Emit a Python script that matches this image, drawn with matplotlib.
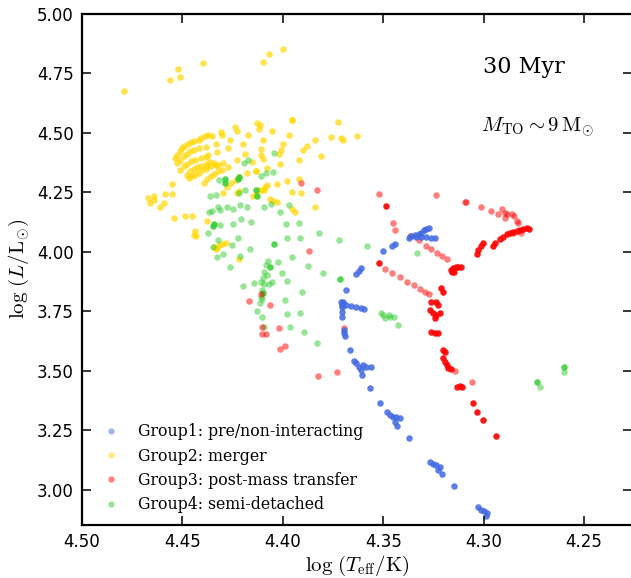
import numpy as np
import matplotlib
matplotlib.use('Agg')
import matplotlib.pyplot as plt
from matplotlib.lines import Line2D

# (log Teff, log L)
group1_pts = [
    (4.3373, 4.060), (4.336, 4.067), (4.3343, 4.071), (4.3323, 4.076), (4.331, 4.081),
    (4.3297, 4.090), (4.3285, 4.095), (4.3273, 4.100), (4.331, 4.064), (4.3285, 4.062),
    (4.3263, 4.060), (4.3243, 4.059), (4.3335, 4.064), (4.3502, 4.004), (4.3455, 4.025),
    (4.3443, 4.034), (4.3635, 3.907), (4.3623, 3.921), (4.361, 3.934), (4.3687, 3.840),
    (4.3702, 3.791), (4.3705, 3.770), (4.3705, 3.749), (4.3705, 3.728), (4.3685, 3.777),
    (4.366, 3.773), (4.3635, 3.767), (4.361, 3.763), (4.3597, 3.759), (4.371, 3.791),
    (4.3707, 3.777), (4.3697, 3.672), (4.3693, 3.658), (4.369, 3.647), (4.3668, 3.588),
    (4.3647, 3.542), (4.3635, 3.532), (4.3623, 3.518), (4.3613, 3.504), (4.3607, 3.483),
    (4.3602, 3.525), (4.3585, 3.518), (4.3563, 3.518), (4.3568, 3.427), (4.3518, 3.364),
    (4.348, 3.325), (4.3468, 3.315), (4.3452, 3.308), (4.3435, 3.305), (4.3418, 3.301),
    (4.3443, 3.287), (4.343, 3.269), (4.3373, 3.216), (4.3268, 3.119), (4.3252, 3.109),
    (4.3235, 3.105), (4.3218, 3.098), (4.3227, 3.084), (4.3207, 3.067), (4.3147, 3.017),
    (4.303, 2.927), (4.3013, 2.916), (4.2997, 2.909), (4.2985, 2.902), (4.299, 2.888),
]

group2_pts = [
    # sparse bright ones
    (4.479, 4.678), (4.456, 4.723), (4.452, 4.769), (4.451, 4.733), (4.440, 4.794),
    (4.410, 4.797), (4.407, 4.831), (4.400, 4.854),
    (4.3955, 4.552), (4.3955, 4.552), (4.3725, 4.546), (4.363, 4.486), (4.376, 4.482),
    (4.371, 4.478), (4.370, 4.470), (4.384, 4.468), (4.388, 4.446), (4.390, 4.430),
    (4.381, 4.402), (4.392, 4.385), (4.397, 4.493), (4.400, 4.453), (4.4055, 4.509),
    (4.410, 4.470), (4.413, 4.543), (4.4115, 4.531), (4.412, 4.516), (4.411, 4.431),
    (4.401, 4.426), (4.402, 4.412), (4.411, 4.407), (4.410, 4.392), (4.4015, 4.371),
    (4.4135, 4.339), (4.408, 4.354), (4.398, 4.298), (4.392, 4.307), (4.403, 4.286),
    (4.408, 4.283), (4.409, 4.271), (4.4095, 4.258), (4.4105, 4.261), (4.412, 4.261),
    (4.4135, 4.239), (4.415, 4.236), (4.3955, 4.252), (4.391, 4.247), (4.4065, 4.222),
    (4.405, 4.212), (4.403, 4.209), (4.384, 4.189), (4.3955, 4.178), (4.394, 4.168),
    # dense stripes
    (4.4535, 4.394), (4.4527, 4.408), (4.4513, 4.422), (4.4502, 4.436), (4.449, 4.446),
    (4.4473, 4.454), (4.4457, 4.460), (4.444, 4.464), (4.4418, 4.471), (4.4407, 4.478),
    (4.439, 4.485), (4.4372, 4.490), (4.4352, 4.488),
    (4.4527, 4.373), (4.451, 4.387), (4.4493, 4.401), (4.4477, 4.412), (4.446, 4.422),
    (4.444, 4.429), (4.4418, 4.436),
    (4.451, 4.345), (4.4493, 4.359), (4.4477, 4.370), (4.4457, 4.380), (4.4435, 4.387),
    (4.441, 4.394), (4.4385, 4.398),
    (4.4477, 4.324), (4.446, 4.338), (4.4443, 4.348), (4.4427, 4.356), (4.4407, 4.362),
    (4.4385, 4.370), (4.4363, 4.376), (4.4343, 4.373),
    (4.4468, 4.310), (4.4452, 4.317), (4.4435, 4.324), (4.4418, 4.331), (4.4402, 4.342),
    (4.4385, 4.348), (4.436, 4.359), (4.4335, 4.366),
    (4.4393, 4.291), (4.4377, 4.305), (4.436, 4.317), (4.4343, 4.328), (4.4323, 4.338),
    (4.4302, 4.345),
    (4.4297, 4.249), (4.4277, 4.274), (4.4257, 4.289), (4.4235, 4.302), (4.4218, 4.316),
    (4.4227, 4.247), (4.4218, 4.256),
    # scattered around the stripes
    (4.4378, 4.359), (4.4333, 4.454), (4.433, 4.419), (4.4372, 4.406), (4.4382, 4.440),
    (4.431, 4.502), (4.4302, 4.489), (4.4237, 4.524), (4.4227, 4.509), (4.4173, 4.489),
    (4.4263, 4.471), (4.4198, 4.453), (4.419, 4.412), (4.4273, 4.436), (4.4272, 4.356),
    (4.4298, 4.373), (4.4323, 4.366), (4.4177, 4.331), (4.4135, 4.338), (4.423, 4.387),
    (4.4152, 4.376),
    (4.4552, 4.286), (4.4585, 4.244), (4.4553, 4.244), (4.4673, 4.226), (4.4663, 4.205),
    (4.4643, 4.235), (4.464, 4.219), (4.4613, 4.188), (4.4593, 4.205), (4.4485, 4.151),
    (4.445, 4.151), (4.4543, 4.142), (4.4438, 4.088), (4.4443, 4.071), (4.4432, 4.068),
    (4.438, 4.130), (4.4343, 4.022), (4.433, 4.016), (4.4318, 4.029), (4.4302, 4.032),
    (4.4285, 4.036), (4.4335, 4.011), (4.4218, 3.972),
]

group3_pts = [
    (4.391, 4.291), (4.383, 4.260), (4.3868, 4.005), (4.4168, 3.795), (4.4063, 3.777),
    (4.4107, 3.823), (4.4102, 3.686), (4.4102, 3.654), (4.4085, 3.654), (4.4018, 3.682),
    (4.4013, 3.591), (4.399, 3.606), (4.3827, 3.479), (4.3732, 3.497), (4.3693, 3.682),
    (4.3522, 4.245), (4.3453, 4.120), (4.344, 4.091), (4.3365, 4.068), (4.3323, 4.050),
    (4.3288, 4.025), (4.326, 4.011), (4.323, 3.997), (4.3205, 3.983), (4.3183, 3.972),
    (4.3493, 3.930), (4.3455, 3.910), (4.3415, 3.893), (4.338, 3.875), (4.3347, 3.860),
    (4.3318, 3.846), (4.3293, 3.832), (4.3273, 3.821), (4.3235, 4.237), (4.3093, 4.209),
    (4.3088, 4.211), (4.3013, 4.189), (4.2963, 4.171), (4.2927, 4.160), (4.2907, 4.178),
    (4.2893, 4.162), (4.2893, 4.141), (4.2885, 4.159), (4.286, 4.159), (4.2847, 4.150),
    (4.2835, 4.131), (4.2827, 4.123), (4.3143, 3.501), (4.3057, 3.455), (4.2813, 4.081),
    (4.2852, 4.079),
]

# red points that pile up on top of each other (drawn darker)
group3_dense = [
    (4.3485, 4.193), (4.3522, 3.952), (4.3163, 3.924), (4.3152, 3.931), (4.314, 3.935),
    (4.3127, 3.938), (4.3113, 3.935), (4.3147, 3.917), (4.316, 3.917), (4.321, 3.847),
    (4.3202, 3.833), (4.3035, 3.992), (4.3027, 4.008), (4.3013, 4.025), (4.3002, 4.036),
    (4.2952, 4.025), (4.2943, 4.039), (4.2918, 4.053), (4.2902, 4.064), (4.2885, 4.074),
    (4.2868, 4.081), (4.2852, 4.085), (4.2835, 4.088), (4.2818, 4.092), (4.2802, 4.095),
    (4.2785, 4.100), (4.2773, 4.098),
    (4.326, 3.791), (4.3235, 3.791), (4.3227, 3.777), (4.3268, 3.756), (4.3252, 3.742),
    (4.3235, 3.735), (4.3243, 3.721), (4.3218, 3.742), (4.3263, 3.665), (4.3243, 3.658),
    (4.3227, 3.661), (4.3202, 3.588), (4.3193, 3.581), (4.3202, 3.553), (4.3193, 3.539),
    (4.3185, 3.525), (4.3177, 3.511), (4.3163, 3.507), (4.3135, 3.434), (4.3118, 3.437),
    (4.3107, 3.431), (4.3052, 3.367), (4.3035, 3.329), (4.3002, 3.294), (4.2937, 3.225),
]

group4_pts = [
    (4.4193, 4.375), (4.4172, 4.386), (4.4043, 4.414), (4.4047, 4.337), (4.4085, 4.330),
    (4.411, 4.319), (4.4218, 4.249), (4.4188, 4.260), (4.4318, 4.302), (4.4363, 4.235),
    (4.4335, 4.239), (4.4322, 4.190), (4.4313, 4.176), (4.4368, 4.169), (4.4352, 4.172),
    (4.4277, 4.188), (4.4247, 4.182), (4.4213, 4.195), (4.418, 4.190), (4.4093, 4.188),
    (4.406, 4.200), (4.4013, 4.169), (4.3968, 4.197), (4.4313, 4.112), (4.4247, 4.118),
    (4.4207, 4.140), (4.4157, 4.126), (4.4373, 4.078), (4.4323, 4.049), (4.4222, 4.059),
    (4.4252, 4.027), (4.4163, 4.014), (4.4347, 4.020), (4.4327, 3.978), (4.4297, 3.990),
    (4.4213, 3.983), (4.4263, 3.936), (4.3985, 4.115), (4.3918, 4.123), (4.3822, 4.081),
    (4.398, 4.057), (4.3913, 4.057), (4.3952, 3.980), (4.3877, 3.941), (4.3798, 3.910),
    (4.3718, 4.048), (4.4073, 3.962), (4.4085, 3.945), (4.4023, 3.959), (4.4093, 3.917),
    (4.408, 3.901), (4.4097, 3.892), (4.411, 3.875), (4.4093, 3.863), (4.4102, 3.840),
    (4.411, 3.812), (4.4105, 3.801), (4.4113, 3.784), (4.4127, 3.752), (4.4102, 3.728),
    (4.4093, 3.683), (4.4143, 3.868), (4.4197, 3.857), (4.4052, 3.875), (4.4068, 3.864),
    (4.4002, 3.910), (4.398, 3.878), (4.3905, 3.833), (4.3988, 3.796), (4.398, 3.740),
    (4.3915, 3.745), (4.3963, 3.683), (4.3893, 3.665), (4.383, 3.616), (4.358, 4.024),
    (4.333, 3.997), (4.3513, 3.745), (4.3502, 3.735), (4.349, 3.721), (4.3473, 3.735),
    (4.3468, 3.725), (4.3447, 3.728), (4.3427, 3.693), (4.2598, 3.496), (4.272, 3.433),
]

group4_dense = [
    (4.3713, 3.885), (4.4043, 4.034), (4.2602, 3.518), (4.2732, 3.455), (4.429, 4.305),
    (4.429, 4.288), (4.4218, 4.316), (4.4223, 4.305), (4.4132, 4.258), (4.413, 4.235),
    (4.4343, 4.118), (4.4347, 4.109), (4.4063, 3.938), (4.4097, 3.829),
]

labels = ['Group1: pre/non-interacting', 'Group2: merger',
          'Group3: post-mass transfer', 'Group4: semi-detached']
colors = ['royalblue', 'gold', 'red', 'limegreen']

plt.rcParams['mathtext.fontset'] = 'cm'

fig = plt.figure(figsize=(6.31, 5.78), dpi=100)
ax = fig.add_axes([0.130, 0.092, 0.872, 0.884])

ms = 22
g1 = np.array(group1_pts)
g2 = np.array(group2_pts)
g3 = np.array(group3_pts)
g3d = np.array(group3_dense)
g4 = np.array(group4_pts)
g4d = np.array(group4_dense)

ax.scatter(g2[:, 0], g2[:, 1], s=ms, color=colors[1], alpha=0.7, lw=0)
ax.scatter(g4[:, 0], g4[:, 1], s=ms, color=colors[3], alpha=0.5, lw=0)
ax.scatter(g4d[:, 0], g4d[:, 1], s=ms, color=colors[3], alpha=0.85, lw=0)
ax.scatter(g3[:, 0], g3[:, 1], s=ms, color=colors[2], alpha=0.5, lw=0)
ax.scatter(g3d[:, 0], g3d[:, 1], s=ms, color=colors[2], alpha=0.9, lw=0)
ax.scatter(g1[:, 0], g1[:, 1], s=ms, color=colors[0], alpha=0.85, lw=0)

ax.set_xlim(4.50, 4.226)
ax.set_ylim(2.853, 5.00)
ax.set_xticks([4.50, 4.45, 4.40, 4.35, 4.30, 4.25])
ax.set_yticks([3.00, 3.25, 3.50, 3.75, 4.00, 4.25, 4.50, 4.75, 5.00])
ax.xaxis.set_major_formatter(matplotlib.ticker.FormatStrFormatter('%.2f'))
ax.yaxis.set_major_formatter(matplotlib.ticker.FormatStrFormatter('%.2f'))
ax.tick_params(direction='in', length=6.5, width=1.1, top=True, right=True,
               labelsize=12, pad=6)
for sp in ax.spines.values():
    sp.set_linewidth(1.6)

ax.set_xlabel(r'$\log\,(T_{\rm eff}/{\rm K})$', fontsize=15, labelpad=2)
ax.set_ylabel(r'$\log\,(L/{\rm L_{\odot}})$', fontsize=15, labelpad=4)

ax.text(0.728, 0.896, '30 Myr', transform=ax.transAxes, fontsize=16,
        family='DejaVu Serif', ha='left', va='center')
ax.text(0.726, 0.779, r'$M_{\rm TO}\sim9\,{\rm M_{\odot}}$', transform=ax.transAxes,
        fontsize=15, ha='left', va='center')

handles = [Line2D([], [], ls='', marker='o', ms=4.5, mew=0, color=c, alpha=0.5)
           for c in colors]
ax.legend(handles, labels, loc='lower left', bbox_to_anchor=(0.005, 0.001),
          frameon=False, prop={'family': 'DejaVu Serif', 'size': 11.3},
          handletextpad=0.7, labelspacing=0.47, borderaxespad=0.3)

fig.savefig('out.png', dpi=100)
